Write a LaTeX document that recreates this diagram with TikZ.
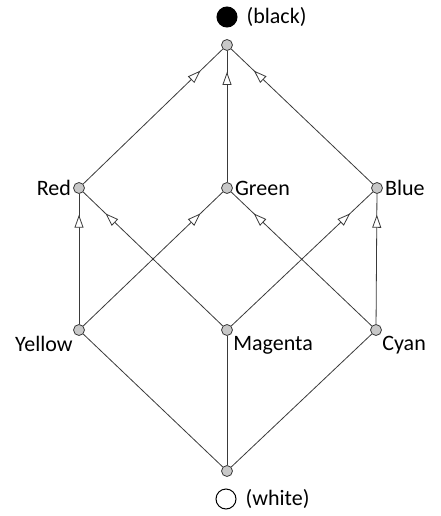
\documentclass[tikz,border=0pt]{standalone}
\usepackage{fontspec}
\setmainfont{Carlito}
\usetikzlibrary{arrows.meta,decorations.markings}
\definecolor{dotgray} {HTML}{C8C8C8}
\definecolor{edgegray}{HTML}{3A3A3A}

\begin{document}
\begin{tikzpicture}[x=1pt,y=-1pt,
  elem/.style={circle,draw=edgegray,fill=dotgray,minimum size=11pt,inner sep=0pt,line width=0.8pt},
  lbl/.style={font=\fontsize{22}{26}\selectfont,inner sep=2pt},
  swlbl/.style={lbl,xshift=7pt},
  swatch/.style={circle,draw=black,minimum size=20pt,inner sep=0pt,line width=1pt},
  edge/.style={draw=edgegray,line width=0.8pt},
  ord/.style={edge,postaction={decorate},
              decoration={markings,mark=at position 0.84 with
                {\arrow{Triangle[fill=white,length=13pt,width=9pt]}}}}
]
\useasboundingbox (0,0) rectangle (440,516);
% the eight colours
\node[elem] (top)  at (227,45)  {};
\node[elem,label={[lbl]left:Red}]           (red)  at (79,188)  {};
\node[elem,label={[lbl]right:Green}]        (grn)  at (227,188) {};
\node[elem,label={[lbl]right:Blue}]         (blu)  at (377,188) {};
\node[elem,label={[lbl]below left:Yellow}]  (yel)  at (79,330)  {};
\node[elem,label={[lbl]below right:Magenta}](mag)  at (227,330) {};
\node[elem,label={[lbl]below right:Cyan}]   (cyn)  at (376,330) {};
\node[elem] (bot)  at (227,471) {};
% legend swatches
\node[swatch,fill=black,label={[swlbl]right:(black)}] (blk) at (227,17)  {};
\node[swatch,fill=white,label={[swlbl]right:(white)}] (wht) at (226,499) {};

\draw[ord] (red) -- (top);
\draw[ord] (grn) -- (top);
\draw[ord] (blu) -- (top);
\draw[ord] (yel) -- (red);
\draw[ord] (yel) -- (grn);
\draw[ord] (mag) -- (red);
\draw[ord] (mag) -- (blu);
\draw[ord] (cyn) -- (grn);
\draw[ord] (cyn) -- (blu);
\draw[edge] (bot) -- (yel);
\draw[edge] (bot) -- (mag);
\draw[edge] (bot) -- (cyn);
\end{tikzpicture}
\end{document}
